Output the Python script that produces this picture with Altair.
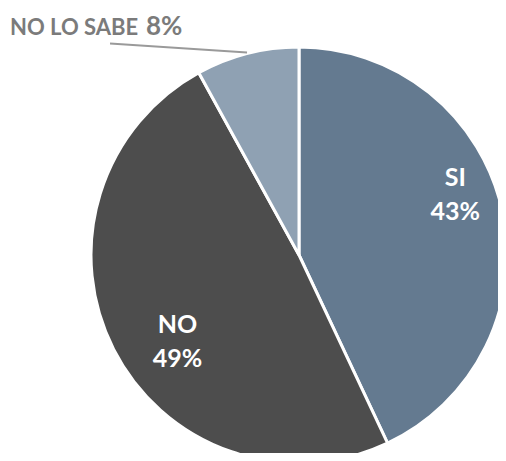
import math
import altair as alt
import pandas as pd

labels = ["SI", "NO", "NO LO SABE"]
values = [43, 49, 8]
colors = ["#647a90", "#4d4d4d", "#8fa1b3"]

W, H = 490, 445
cx, cy = 291, 247
R = 208

total = sum(values)
rows = []
cum = 0.0
for i, (lab, v) in enumerate(zip(labels, values)):
    mid = (cum + v / 2) / total * 2 * math.pi
    cum += v
    rows.append({
        "label": lab,
        "value": v,
        "idx": i,
        "pct": f"{v}%",
        "txt": f"{lab}\n{v}%",
        "lx": cx + 0.78 * R * math.sin(mid),
        "ly": cy - 0.78 * R * math.cos(mid),
        "ex": cx + (R + 1) * math.sin(mid),
        "ey": cy - (R + 1) * math.cos(mid),
    })
df = pd.DataFrame(rows)
df["rx"] = df["ex"] - 137
df["ry"] = df["ey"] - 9
df["tx"] = df["ex"] - 237
df["ty"] = df["ey"] - 18

FONT = "Lato"

pie = alt.Chart(df).mark_arc(outerRadius=R, stroke="white", strokeWidth=3).encode(
    theta=alt.Theta("value:Q", stack=True),
    color=alt.Color("label:N", scale=alt.Scale(domain=labels, range=colors), legend=None),
    order=alt.Order("idx:Q"),
    x=alt.value(cx),
    y=alt.value(cy),
)

def inner(lab, dx, dy):
    return alt.Chart(df).transform_filter(alt.datum.label == lab).mark_text(
        font=FONT, fontSize=25, fontWeight="bold", color="white",
        lineBreak="\n", lineHeight=34, align="center", baseline="middle",
        dx=dx, dy=dy,
    ).encode(
        x=alt.X("lx:Q", scale=None),
        y=alt.Y("ly:Q", scale=None),
        text="txt:N",
    )

si_lab = inner("SI", -2, -42)
no_lab = inner("NO", 23, -4)

outer = alt.Chart(df).transform_filter(alt.datum.label == "NO LO SABE")
rule = outer.mark_rule(color="#9a9a9a", strokeWidth=2).encode(
    x=alt.X("rx:Q", scale=None), y=alt.Y("ry:Q", scale=None),
    x2="ex:Q", y2="ey:Q",
)
txt1 = outer.mark_text(
    font=FONT, fontSize=22, fontWeight="bold", color="#7b7b7b",
    align="left", baseline="alphabetic",
).encode(
    x=alt.X("tx:Q", scale=None), y=alt.Y("ty:Q", scale=None),
    text=alt.value("NO LO SABE"),
)
txt2 = outer.mark_text(
    font=FONT, fontSize=26, fontWeight="bold", color="#7b7b7b",
    align="left", baseline="alphabetic", dx=136,
).encode(
    x=alt.X("tx:Q", scale=None), y=alt.Y("ty:Q", scale=None),
    text="pct:N",
)

chart = alt.layer(pie, si_lab, no_lab, rule, txt1, txt2).properties(
    width=W, height=H, padding=0, background="white",
    autosize=alt.AutoSizeParams(type="none"),
).configure_view(stroke=None)

chart.save("out.html", embed_options={"renderer": "svg", "actions": False})
